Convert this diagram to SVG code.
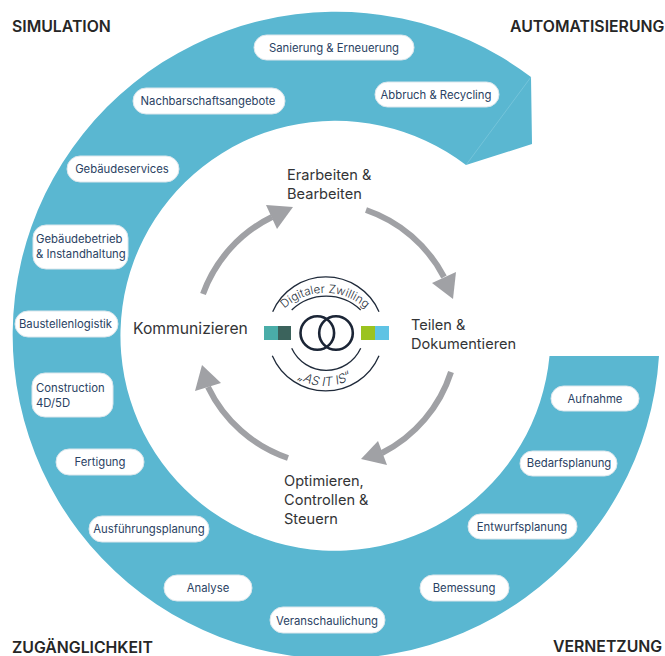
<svg xmlns="http://www.w3.org/2000/svg" width="665" height="656" viewBox="0 0 665 656">
<style>
text{font-family:"Inter","Noto Sans",sans-serif}
.pill rect{fill:#fff;stroke:#dbe6ec;stroke-width:1}
.pill text{font-size:11.3px;fill:#2a4263;text-anchor:middle}
.lab{font-size:14.6px;fill:#333436}
.head{font-size:15.8px;font-weight:600;fill:#262626}
.arr{fill:none;stroke:#a0a1a5;stroke-width:6}
.head-a{fill:#a0a1a5}
.e{fill:none;stroke:#1f2a3a;stroke-width:1.3}
.em{font-size:11.6px;fill:#2a3340;font-weight:300}
</style>
<defs>
<path id="ta" d="M284 309A60 60 0 0 1 366 309"/>
<path id="tb" d="M283.5 364A50 50 0 0 0 366.5 364"/>
</defs>
<rect width="665" height="656" fill="#fff"/>
<g id="ring">
<path d="M659 356A323.5 323.5 0 1 1 531 77L532 144L466 165A215 215 0 1 0 549.5 356Z" fill="#5ab7d1"/>
<path d="M531 77L466 165" stroke="#8fd0e2" stroke-width="0.5" fill="none"/>
</g>
<g id="connectors">
<path class="arr" d="M203 294A138 138 0 0 1 272 217"/>
<polygon class="head-a" points="266,205 293,207 277,229"/>
<path class="arr" d="M366 210A138 138 0 0 1 444 277"/>
<polygon class="head-a" points="456,272 432,283 453,299"/>
<path class="arr" d="M451 372A138 138 0 0 1 382 453"/>
<polygon class="head-a" points="378,441 387,465 361,459"/>
<path class="arr" d="M288 458A138 138 0 0 1 208 387"/>
<polygon class="head-a" points="202,365 221,383 195,391"/>
</g>
<g id="n-sanierung" class="pill"><rect x="254" y="35" width="160" height="25" rx="12.5"/><text x="334" y="52">Sanierung &amp; Erneuerung</text></g>
<g id="n-abbruch" class="pill"><rect x="375" y="82" width="124" height="25" rx="12.5"/><text x="436" y="99">Abbruch &amp; Recycling</text></g>
<g id="n-nachbarschaft" class="pill"><rect x="133" y="88" width="152" height="26" rx="13"/><text x="208" y="105">Nachbarschaftsangebote</text></g>
<g id="n-services" class="pill"><rect x="67" y="156" width="112" height="26" rx="13"/><text x="122" y="173">Gebäudeservices</text></g>
<g id="n-betrieb" class="pill"><rect x="33" y="225" width="95" height="44" rx="13"/><text x="36" y="243" style="text-anchor:start">Gebäudebetrieb</text><text x="36" y="258" style="text-anchor:start">&amp; Instandhaltung</text></g>
<g id="n-logistik" class="pill"><rect x="15" y="311" width="103" height="26" rx="13"/><text x="65.500" y="328">Baustellenlogistik</text></g>
<g id="n-construction" class="pill"><rect x="32" y="373" width="81" height="44" rx="13"/><text x="36" y="392" style="text-anchor:start">Construction</text><text x="36" y="407" style="text-anchor:start">4D/5D</text></g>
<g id="n-fertigung" class="pill"><rect x="56" y="449" width="88" height="26" rx="13"/><text x="100" y="466">Fertigung</text></g>
<g id="n-ausfuehrung" class="pill"><rect x="89" y="516" width="120" height="26" rx="13"/><text x="149" y="533">Ausführungsplanung</text></g>
<g id="n-analyse" class="pill"><rect x="164" y="575" width="88" height="26" rx="13"/><text x="208" y="592">Analyse</text></g>
<g id="n-veranschaulichung" class="pill"><rect x="270" y="607" width="115" height="26" rx="13"/><text x="327" y="625">Veranschaulichung</text></g>
<g id="n-bemessung" class="pill"><rect x="420" y="575" width="89" height="26" rx="13"/><text x="464" y="592">Bemessung</text></g>
<g id="n-entwurf" class="pill"><rect x="468" y="514" width="109" height="25" rx="12.5"/><text x="522" y="531">Entwurfsplanung</text></g>
<g id="n-bedarf" class="pill"><rect x="520" y="451" width="97" height="25" rx="12.5"/><text x="569" y="467">Bedarfsplanung</text></g>
<g id="n-aufnahme" class="pill"><rect x="551" y="386" width="88" height="25" rx="12.5"/><text x="595" y="403">Aufnahme</text></g>
<g id="n-erarbeiten"><text class="lab" x="287" y="180">Erarbeiten &amp;</text><text class="lab" x="287" y="199">Bearbeiten</text></g>
<g id="n-teilen"><text class="lab" x="411" y="330">Teilen &amp;</text><text class="lab" x="411" y="349">Dokumentieren</text></g>
<g id="n-optimieren"><text class="lab" x="284" y="486">Optimieren,</text><text class="lab" x="284" y="505">Controllen &amp;</text><text class="lab" x="284" y="524">Steuern</text></g>
<g id="n-kommunizieren"><text class="lab" x="133" y="334" style="font-size:15.7px">Kommunizieren</text></g>
<g id="t-simulation"><text class="head" x="12" y="32">SIMULATION</text></g>
<g id="t-automatisierung"><text class="head" x="510" y="32">AUTOMATISIERUNG</text></g>
<g id="t-zugaenglichkeit"><text class="head" x="12" y="653">ZUGÄNGLICHKEIT</text></g>
<g id="t-vernetzung"><text class="head" x="553" y="652">VERNETZUNG</text></g>
<g id="emblem">
<rect x="264" y="326" width="14" height="14" fill="#4aada8"/><rect x="278" y="326" width="13" height="14" fill="#3b635c"/>
<rect x="361" y="326" width="14" height="14" fill="#9bc31f"/><rect x="375" y="326" width="14" height="14" fill="#5fc3e4"/>
<circle cx="317.300" cy="333" r="16.800" fill="none" stroke="#1b2536" stroke-width="2.600"/>
<circle cx="336" cy="333" r="16.800" fill="none" stroke="#1b2536" stroke-width="2.600"/>
<path class="e" d="M272.700 311.700A58 58 0 0 1 379 311.700"/>
<path class="e" d="M272.300 355.700A58 58 0 0 0 379 355.700"/>
<path class="e" d="M291.700 310A50 50 0 0 1 360.700 310"/>
<path class="e" d="M291.700 348.300A38 38 0 0 0 360.700 348.300"/>
<text class="em"><textPath href="#ta" startOffset="50%" text-anchor="middle">Digitaler Zwilling</textPath></text>
<text class="em" font-style="italic" style="font-size:12.5px"><textPath href="#tb" startOffset="50%" text-anchor="middle">„AS IT IS“</textPath></text>
</g>
</svg>
